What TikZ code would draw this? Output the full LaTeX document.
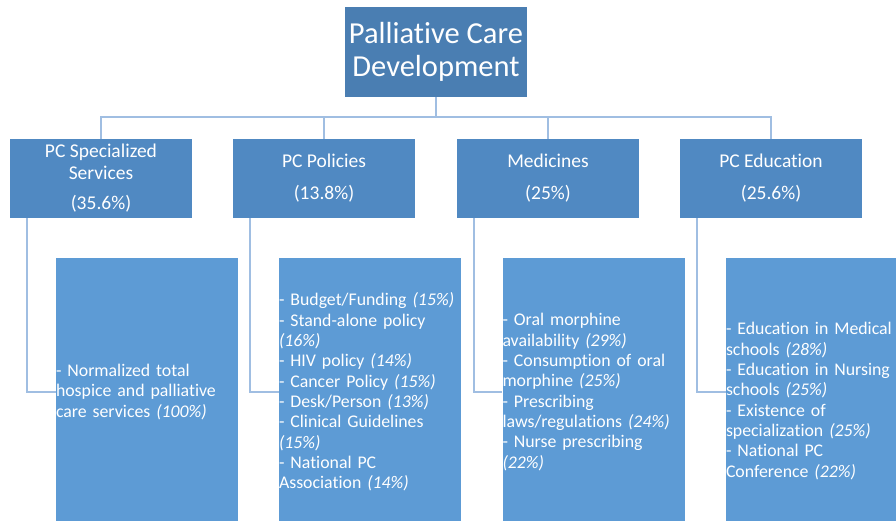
\documentclass[tikz,border=0pt]{standalone}
\usepackage{fontspec}
\setmainfont{Carlito}[Ligatures=NoCommon]
\definecolor{topc}{RGB}{74,126,178}
\definecolor{midc}{RGB}{80,137,194}
\definecolor{lowc}{RGB}{93,155,213}
\definecolor{linec}{RGB}{160,190,226}
\begin{document}
\begin{tikzpicture}[x=1pt,y=-1pt,
  topbox/.style={fill=topc,text=white,minimum width=182pt,minimum height=90pt,
    inner sep=0pt,align=center,font=\fontsize{30.5}{33}\selectfont},
  midbox/.style={fill=midc,text=white,minimum width=182pt,minimum height=79pt,
    inner sep=0pt,align=center,font=\fontsize{19.5}{22}\selectfont},
  lowbox/.style={fill=lowc,text=white,minimum width=182pt,minimum height=268pt,
    text width=182pt,inner sep=0pt,align=left,font=\fontsize{17.8}{20.3}\selectfont},
  conn/.style={draw=linec,line width=2pt}]
\useasboundingbox (0,0) rectangle (896,521);
\node[topbox] (top) at (436,52) {Palliative Care\\Development};
\node[midbox] (m1) at (101,178.5) {PC Specialized\\Services\\[8pt](35.6\%)};
\node[midbox] (m2) at (324,178.5) {PC Policies\\[10pt](13.8\%)};
\node[midbox] (m3) at (548,178.5) {Medicines\\[10pt](25\%)};
\node[midbox] (m4) at (771,178.5) {PC Education\\[10pt](25.6\%)};
\node[lowbox] (l1) at (147,392) {- Normalized total\\hospice and palliative\\care services \textit{(100\%)}};
\node[lowbox] (l2) at (370,392) {- Budget/Funding \textit{(15\%)}\\- Stand-alone policy\\\textit{(16\%)}\\- HIV policy \textit{(14\%)}\\- Cancer Policy \textit{(15\%)}\\- Desk/Person \textit{(13\%)}\\- Clinical Guidelines\\\textit{(15\%)}\\- National PC\\Association \textit{(14\%)}};
\node[lowbox] (l3) at (593.5,392) {- Oral morphine\\availability \textit{(29\%)}\\- Consumption of oral\\morphine \textit{(25\%)}\\- Prescribing\\laws/regulations \textit{(24\%)}\\- Nurse prescribing\\\textit{(22\%)}};
\node[lowbox,minimum height=286pt] (l4) at (817,401) {- Education in Medical\\schools \textit{(28\%)}\\- Education in Nursing\\schools \textit{(25\%)}\\- Existence of\\specialization \textit{(25\%)}\\- National PC\\Conference \textit{(22\%)}};
\coordinate (bus) at (436,117);
\draw[conn] (top.south) -- (bus);
\foreach \m in {m1,m2,m3,m4} \draw[conn] (bus) -| (\m.north);
\draw[conn] ([xshift=17pt]m1.south west) |- (l1.west);
\draw[conn] ([xshift=17pt]m2.south west) |- (l2.west);
\draw[conn] ([xshift=17pt]m3.south west) |- (l3.west);
\draw[conn] ([xshift=17pt]m4.south west) |- ([yshift=9pt]l4.west);
\end{tikzpicture}
\end{document}
